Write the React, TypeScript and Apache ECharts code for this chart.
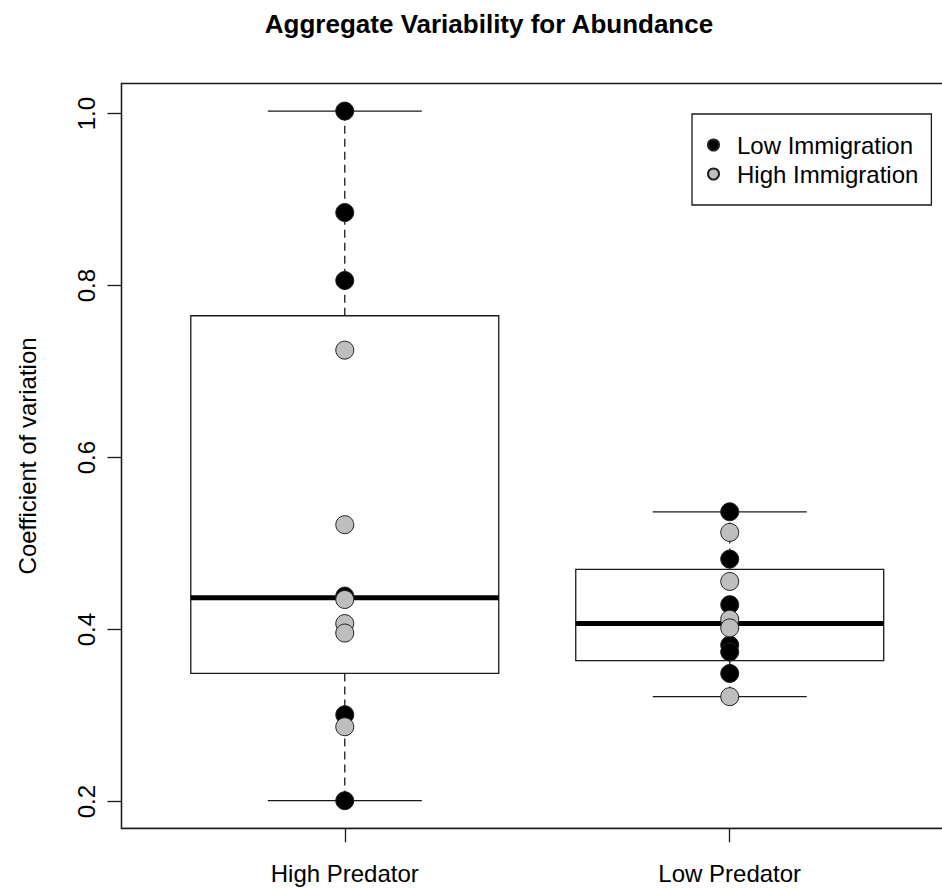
import React, { useEffect, useRef } from "react";
import * as echarts from "echarts";

// ---- data ----
const categories = ["High Predator", "Low Predator"];
const categoryPositions = [1, 2];
// [min, lower hinge, median, upper hinge, max]
const boxHighPredator = [0.201, 0.349, 0.437, 0.765, 1.003];
const boxLowPredator = [0.322, 0.364, 0.407, 0.47, 0.537];
const lowImmHighPred = [1.003, 0.885, 0.806, 0.439, 0.301, 0.201];
const highImmHighPred = [0.725, 0.522, 0.435, 0.407, 0.396, 0.287];
const lowImmLowPred = [0.537, 0.482, 0.429, 0.382, 0.374, 0.349];
const highImmLowPred = [0.513, 0.456, 0.412, 0.402, 0.322];
const yTicks = [0.2, 0.4, 0.6, 0.8, 1.0];
const xTicks = [1, 2];

const FONT = "'Liberation Sans', Arial, sans-serif";
const INK = "#1a1a1a";

export default function App() {
  const ref = useRef<HTMLDivElement>(null);
  useEffect(() => {
    if (!ref.current) return;
    const chart = echarts.init(ref.current, undefined, { renderer: "svg" });
    const boxData = [
      [categoryPositions[0], ...boxHighPredator],
      [categoryPositions[1], ...boxLowPredator],
    ];
    const toPts = (x: number, arr: number[]) => arr.map((v) => [x, v]);
    const option: any = {
      animation: false,
      backgroundColor: "#fff",
      textStyle: { fontFamily: FONT },
      title: {
        text: "Aggregate Variability for Abundance",
        left: 484,
        top: 6,
        textAlign: "center",
        textStyle: { fontFamily: FONT, fontSize: 26, fontWeight: "bold", color: "#000" },
      },
      legend: {
        orient: "vertical",
        left: 692,
        top: 114,
        padding: [19, 13, 19, 15],
        itemGap: 5,
        itemWidth: 37,
        itemHeight: 11,
        icon: "circle",
        borderColor: INK,
        borderWidth: 1.3,
        backgroundColor: "#fff",
        data: ["Low Immigration", "High Immigration"],
        textStyle: { fontFamily: FONT, fontSize: 24, color: "#000" },
      },
      grid: {
        left: 121.5,
        top: 83.5,
        height: 744.8,
        width: 831.5,
        show: true,
        borderColor: INK,
        borderWidth: 1.3,
        containLabel: false,
        outerBoundsMode: "none",
      },
      xAxis: {
        type: "value",
        min: 0.42,
        max: 2.58,
        splitLine: { show: false },
        axisLine: { show: true, lineStyle: { color: INK, width: 1.3 } },
        axisTick: {
          show: true,
          length: 14,
          inside: false,
          customValues: xTicks,
          lineStyle: { color: INK, width: 1.3 },
        },
        axisLabel: {
          customValues: xTicks,
          margin: 33,
          fontFamily: FONT,
          fontSize: 24,
          color: "#000",
          formatter: (v: number) => categories[Math.round(v) - 1] ?? "",
        },
      },
      yAxis: {
        type: "value",
        min: 0.16892,
        max: 1.03508,
        name: "Coefficient of variation",
        nameLocation: "middle",
        nameRotate: 90,
        nameGap: 82,
        nameTextStyle: { fontFamily: FONT, fontSize: 24, color: "#000" },
        splitLine: { show: false },
        axisLine: { show: true, lineStyle: { color: INK, width: 1.3 } },
        axisTick: {
          show: true,
          length: 14,
          inside: false,
          customValues: yTicks,
          lineStyle: { color: INK, width: 1.3 },
        },
        axisLabel: {
          customValues: yTicks,
          rotate: 90,
          margin: 23,
          fontFamily: FONT,
          fontSize: 24,
          color: "#000",
          formatter: (v: number) => v.toFixed(1),
        },
      },
      series: [
        {
          type: "custom",
          name: "box",
          data: boxData,
          encode: { x: 0, y: [1, 2, 3, 4, 5] },
          z: 1,
          renderItem: (params: any, api: any) => {
            const x = api.value(0);
            const lo = api.coord([x, api.value(1)]);
            const q1 = api.coord([x, api.value(2)]);
            const med = api.coord([x, api.value(3)]);
            const q3 = api.coord([x, api.value(4)]);
            const hi = api.coord([x, api.value(5)]);
            const cx = lo[0];
            const halfBox = api.size([0.4, 0])[0];
            const halfStaple = api.size([0.2, 0])[0];
            const solid = { stroke: INK, lineWidth: 1.3 };
            const dashed = { stroke: INK, lineWidth: 1.3, lineDash: [8, 5] };
            return {
              type: "group",
              children: [
                { type: "line", shape: { x1: cx, y1: q3[1], x2: cx, y2: hi[1] }, style: dashed },
                { type: "line", shape: { x1: cx, y1: q1[1], x2: cx, y2: lo[1] }, style: dashed },
                { type: "line", shape: { x1: cx - halfStaple, y1: hi[1], x2: cx + halfStaple, y2: hi[1] }, style: solid },
                { type: "line", shape: { x1: cx - halfStaple, y1: lo[1], x2: cx + halfStaple, y2: lo[1] }, style: solid },
                {
                  type: "rect",
                  shape: { x: cx - halfBox, y: q3[1], width: 2 * halfBox, height: q1[1] - q3[1] },
                  style: { fill: "#fff", stroke: INK, lineWidth: 1.3 },
                },
                {
                  type: "line",
                  shape: { x1: cx - halfBox, y1: med[1], x2: cx + halfBox, y2: med[1] },
                  style: { stroke: "#000", lineWidth: 5 },
                },
              ],
            };
          },
        },
        {
          type: "scatter",
          name: "Low Immigration",
          data: [...toPts(categoryPositions[0], lowImmHighPred), ...toPts(categoryPositions[1], lowImmLowPred)],
          symbol: "circle",
          symbolSize: 18,
          z: 3,
          itemStyle: { color: "#000", borderColor: "#222", borderWidth: 1, opacity: 1 },
        },
        {
          type: "scatter",
          name: "High Immigration",
          data: [...toPts(categoryPositions[0], highImmHighPred), ...toPts(categoryPositions[1], highImmLowPred)],
          symbol: "circle",
          symbolSize: 18,
          z: 4,
          itemStyle: { color: "#BEBEBE", borderColor: "#222", borderWidth: 1, opacity: 1 },
        },
      ],
    };
    chart.setOption(option);
    return () => chart.dispose();
  }, []);
  return (
    <div
      ref={ref}
      style={{ position: "fixed", left: 0, top: 0, width: 942, height: 890, background: "#fff" }}
    />
  );
}
